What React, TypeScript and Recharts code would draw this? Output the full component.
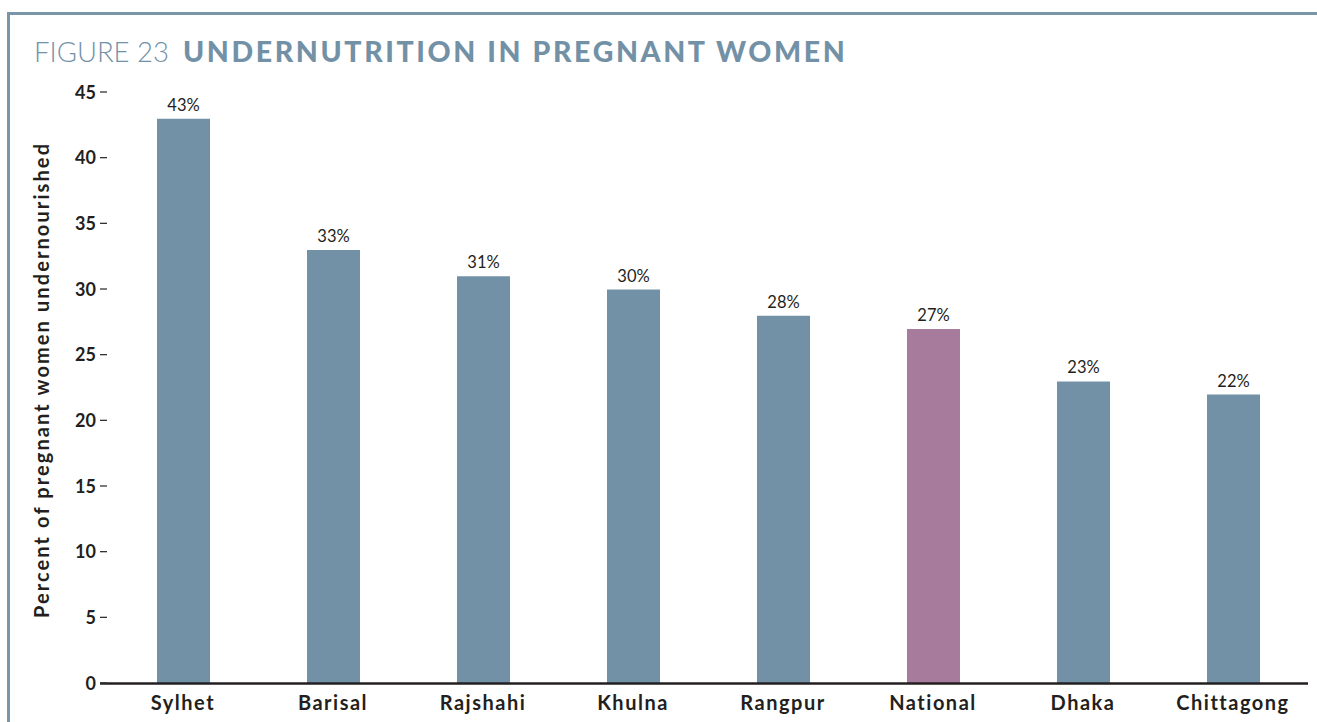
import React from 'react';
import { BarChart, Bar, XAxis, YAxis, Cell, LabelList } from 'recharts';

const categories = ['Sylhet', 'Barisal', 'Rajshahi', 'Khulna', 'Rangpur', 'National', 'Dhaka', 'Chittagong'];
const values = [43, 33, 31, 30, 28, 27, 23, 22];
const yTicks = [0, 5, 10, 15, 20, 25, 30, 35, 40, 45];
const highlightCategory = 'National';

const titlePrefix = 'FIGURE 23';
const titleMain = 'UNDERNUTRITION IN PREGNANT WOMEN';
const yAxisTitle = 'Percent of pregnant women undernourished';

const BAR_COLOR = '#7391a6';
const HIGHLIGHT_COLOR = '#a77b9b';
const TEXT_COLOR = '#231f20';
const FRAME_COLOR = '#7995a8';
const FONT = 'Lato, "Open Sans", sans-serif';

const data = categories.map((name, i) => ({ name, value: values[i] }));

const YTick = (props: any) => {
  const { x, y, payload } = props;
  return (
    <g>
      <line x1={x} x2={x + 7} y1={y - 0.5} y2={y - 0.5} stroke="#333" strokeWidth={1.3} />
      <text x={x - 4} y={y + 6} textAnchor="end" fontFamily={FONT} fontWeight={700} fontSize={18} fill={TEXT_COLOR}>
        {payload.value}
      </text>
    </g>
  );
};

const XTick = (props: any) => {
  const { x, y, payload } = props;
  return (
    <text x={x} y={y + 26.5} textAnchor="middle" fontFamily={FONT} fontWeight={700} fontSize={20} letterSpacing={1.5} fill={TEXT_COLOR}>
      {payload.value}
    </text>
  );
};

export default function App() {
  return (
    <div style={{ position: 'absolute', left: 0, top: 0, width: 1317, height: 722, overflow: 'hidden', background: '#fff' }}>
      <div
        style={{
          position: 'absolute',
          left: 7,
          top: 12,
          width: 1320,
          height: 720,
          borderTop: `3px solid ${FRAME_COLOR}`,
          borderLeft: `3px solid ${FRAME_COLOR}`,
          boxSizing: 'border-box',
        }}
      />
      <div style={{ position: 'absolute', left: 0, top: 0 }}>
        <BarChart width={1317} height={722} data={data} margin={{ top: 92.5, right: 9, bottom: 8.5, left: 40 }}>
          <XAxis
            dataKey="name"
            interval={0}
            tickSize={0}
            tickMargin={0}
            tickLine={false}
            height={30}
            padding={{ left: 8, right: 0 }}
            axisLine={{ stroke: TEXT_COLOR, strokeWidth: 2.5 }}
            tick={<XTick />}
          />
          <YAxis
            domain={[0, 45]}
            ticks={yTicks}
            interval={0}
            width={60}
            tickSize={0}
            tickMargin={0}
            tickLine={false}
            axisLine={false}
            tick={<YTick />}
          />
          <Bar dataKey="value" barSize={53} isAnimationActive={false}>
            {data.map((d) => (
              <Cell key={d.name} fill={d.name === highlightCategory ? HIGHLIGHT_COLOR : BAR_COLOR} />
            ))}
            <LabelList
              dataKey="value"
              position="top"
              offset={8}
              formatter={(v: any) => `${v}%`}
              style={{ fontFamily: FONT, fontSize: 16.5, fill: TEXT_COLOR }}
            />
          </Bar>
        </BarChart>
      </div>
      <svg width={1317} height={722} style={{ position: 'absolute', left: 0, top: 0, pointerEvents: 'none' }}>
        <text x={34} y={61.5} fontFamily={FONT} fontSize={27.5} fontWeight={300} fill={BAR_COLOR}>
          {titlePrefix}
        </text>
        <text x={183} y={61.5} fontFamily={FONT} fontSize={28.5} fontWeight={900} letterSpacing={2.6} fill={BAR_COLOR}>
          {titleMain}
        </text>
        <text
          x={0}
          y={0}
          transform="translate(49, 380) rotate(-90)"
          textAnchor="middle"
          fontFamily={FONT}
          fontWeight={700}
          fontSize={20}
          letterSpacing={2.1}
          fill={TEXT_COLOR}
        >
          {yAxisTitle}
        </text>
      </svg>
    </div>
  );
}
